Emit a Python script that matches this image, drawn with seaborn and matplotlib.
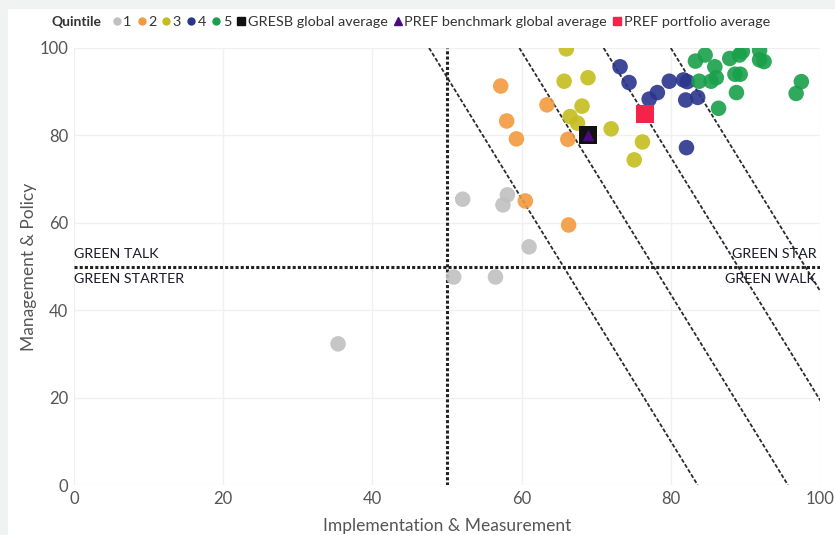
import numpy as np
import pandas as pd
import matplotlib
matplotlib.use("Agg")
import matplotlib.pyplot as plt
from matplotlib.lines import Line2D
from matplotlib.patches import Rectangle
import seaborn as sns

# points per quintile (Implementation & Measurement, Management & Policy)
q1_x = [35.4, 50.9, 56.5, 52.1, 57.5, 58.1, 61.0]
q1_y = [32.3, 47.6, 47.6, 65.4, 64.1, 66.4, 54.5]
q2_x = [60.5, 66.3, 57.2, 63.4, 58.0, 59.3, 66.2]
q2_y = [65.0, 59.5, 91.3, 87.0, 83.3, 79.2, 79.1]
q3_x = [66.0, 65.7, 68.9, 68.1, 66.5, 67.5, 72.0, 76.2, 75.1]
q3_y = [99.8, 92.4, 93.2, 86.7, 84.3, 82.8, 81.5, 78.5, 74.4]
q4_x = [73.2, 74.4, 77.1, 78.2, 79.8, 81.7, 82.2, 82.0, 83.6, 82.1]
q4_y = [95.7, 92.1, 88.3, 89.8, 92.4, 92.7, 92.3, 88.1, 88.7, 77.2]
q5_x = [83.3, 84.6, 85.9, 83.8, 85.4, 86.1, 86.4, 87.9, 89.2, 89.6,
        88.6, 89.3, 88.8, 91.9, 91.9, 92.5, 97.5, 96.8]
q5_y = [97.0, 98.4, 95.7, 92.4, 92.4, 93.2, 86.2, 97.6, 98.4, 99.2,
        94.0, 94.0, 89.8, 99.5, 97.3, 96.9, 92.3, 89.6]
quintiles = ["1", "2", "3", "4", "5"]
colors = ["#c0c0c0", "#f39a3e", "#c5bd1e", "#2b358c", "#19a04a"]

gresb_avg = (68.9, 80.0)
pref_bench = (68.9, 80.0)
pref_port = (76.6, 84.9)

# iso-score lines: x = c - slope * y
iso_c = [83.6, 95.7, 107.0, 116.0]
iso_slope = 0.36
threshold = 50

rows = []
for q, xs, ys in zip(quintiles, [q1_x, q2_x, q3_x, q4_x, q5_x], [q1_y, q2_y, q3_y, q4_y, q5_y]):
    for x, y in zip(xs, ys):
        rows.append((q, x, y))
df = pd.DataFrame(rows, columns=["Quintile", "im", "mp"])

sns.set_style("white")
plt.rcParams["font.family"] = ["Lato", "DejaVu Sans"]

fig = plt.figure(figsize=(8.35, 5.35), dpi=100, facecolor="#f1f3f3")
fig.patches.append(Rectangle((8 / 835, 0), 1, 1 - 9 / 535, transform=fig.transFigure,
                             facecolor="white", edgecolor="none", zorder=-10))
ax = fig.add_axes([74 / 835, 50 / 535, 746 / 835, 437 / 535])
ax.set_facecolor("none")

ax.grid(True, color="#f0f0f0", linewidth=1)
for s in ax.spines.values():
    s.set_visible(False)

yy = np.array([100, 0])
for c in iso_c:
    ax.plot(c - iso_slope * yy, yy, color="#2a2a2a", linewidth=1.3,
            linestyle=(0, (2.2, 1.1)), zorder=2)
ax.plot([threshold, threshold], [0, 100], color="#222222", linewidth=2.2,
        linestyle=(0, (1, 0.7)), zorder=2)
ax.plot([0, 100], [threshold, threshold], color="#222222", linewidth=2.2,
        linestyle=(0, (1, 0.7)), zorder=2)

sns.scatterplot(data=df, x="im", y="mp", hue="Quintile", hue_order=quintiles,
                palette=colors, s=125, alpha=0.9, linewidth=0, legend=False,
                ax=ax, zorder=3)
ax.scatter([gresb_avg[0]], [gresb_avg[1]], marker="s", s=150, color="#111111",
           zorder=4, linewidth=0)
ax.scatter([pref_bench[0]], [pref_bench[1]], marker="^", s=70, color="#4b0a82",
           zorder=5, linewidth=0)
ax.scatter([pref_port[0]], [pref_port[1]], marker="s", s=150, color="#f5234a",
           zorder=4, linewidth=0)

ax.set_xlim(0, 100)
ax.set_ylim(0, 100)
ax.set_xticks(range(0, 101, 20))
ax.set_yticks(range(0, 101, 20))
ax.tick_params(labelsize=12, colors="#555555", length=0, pad=4)
ax.set_xlabel("Implementation & Measurement", fontsize=12.5, color="#555555", labelpad=8)
ax.set_ylabel("Management & Policy", fontsize=12.5, color="#555555", labelpad=2)

lab = dict(fontsize=10.3, color="#1a1a2a")
ax.text(0, 51.5, "GREEN TALK", ha="left", va="bottom", **lab)
ax.text(0, 48.5, "GREEN STARTER", ha="left", va="top", **lab)
ax.text(99.5, 51.5, "GREEN STAR", ha="right", va="bottom", **lab)
ax.text(99.5, 48.5, "GREEN WALK", ha="right", va="top", **lab)

fig.text(52 / 835, 1 - 22 / 535, "Quintile", fontsize=10, fontweight="bold",
         color="#333333", ha="left", va="center")
handles = [Line2D([], [], marker="o", linestyle="none", color=c, markersize=5) for c in colors]
handles += [Line2D([], [], marker="s", linestyle="none", color="#111111", markersize=6),
            Line2D([], [], marker="^", linestyle="none", color="#4b0a82", markersize=6),
            Line2D([], [], marker="s", linestyle="none", color="#f5234a", markersize=6)]
labels = quintiles + ["GRESB global average", "PREF benchmark global average",
                      "PREF portfolio average"]
fig.legend(handles, labels, loc="center left", bbox_to_anchor=(105 / 835, 1 - 22 / 535),
           ncol=8, frameon=False, fontsize=10.4, handlelength=0.6, handletextpad=0.15,
           columnspacing=0.4, borderpad=0, labelcolor="#333333")

fig.savefig("out.png", dpi=100, facecolor=fig.get_facecolor())
